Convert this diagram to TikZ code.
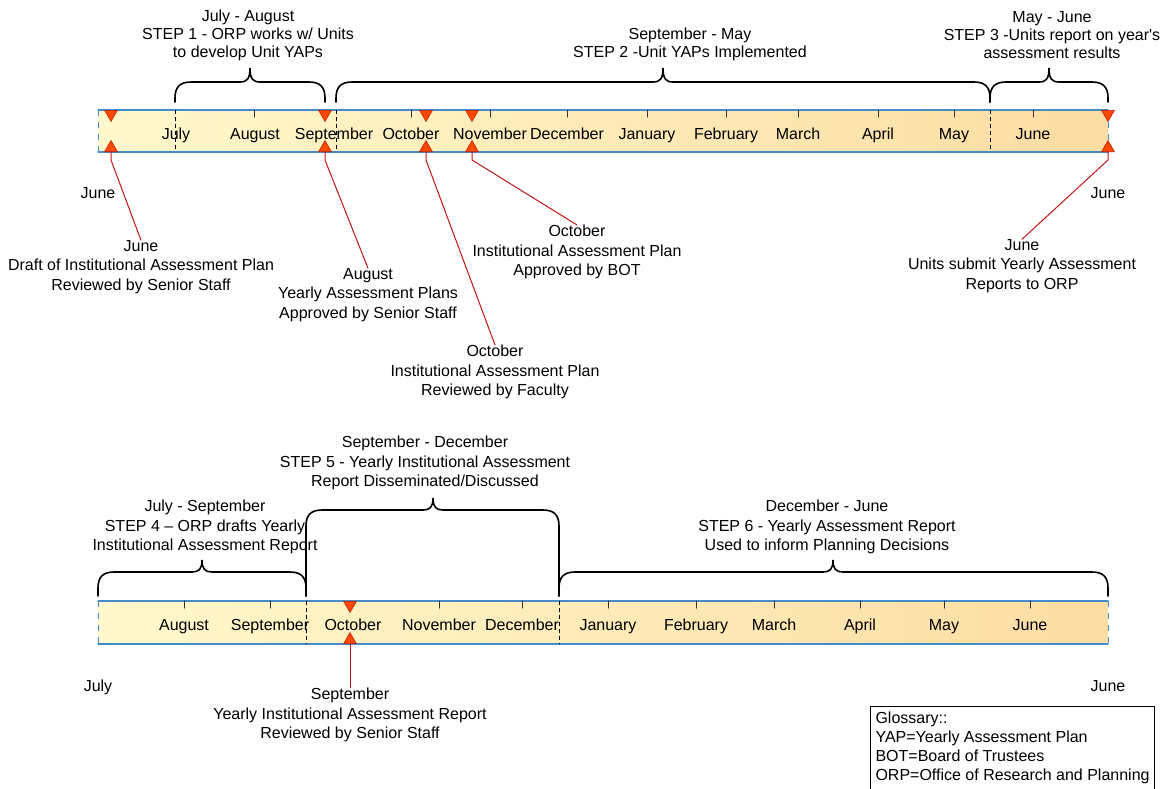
\documentclass[tikz,border=0pt]{standalone}
\usepackage{fontspec}
\setmainfont{Liberation Sans}
\usetikzlibrary{shapes.geometric}

\definecolor{barblue}{RGB}{70,140,205}
\definecolor{barleft}{RGB}{255,248,204}
\definecolor{barright}{RGB}{252,221,163}
\definecolor{markfill}{RGB}{255,72,0}
\definecolor{markdraw}{RGB}{190,30,0}
\definecolor{leadred}{RGB}{192,20,20}

\begin{document}
\begin{tikzpicture}[x=0.5pt, y=-0.5pt, line cap=round,
  font=\fontsize{8}{9.6}\selectfont,
  bar/.style={left color=barleft, right color=barright},
  edgeline/.style={barblue, line width=0.7pt},
  sideline/.style={barblue, thin, dashed, line cap=butt},
  stepline/.style={black, thin, dash pattern=on 2pt off 1.5pt, line cap=butt},
  monthtick/.style={black!80, line width=0.5pt},
  marker/.style={regular polygon, regular polygon sides=3, minimum size=7.4pt,
    inner sep=0pt, fill=markfill, draw=markdraw, line width=0.3pt},
  markdown/.style={marker, shape border rotate=180, anchor=north},
  markup/.style={marker, anchor=south},
  leader/.style={leadred, line width=0.5pt},
  stepbrace/.style={black, line width=0.8pt},
  note/.style={align=center, inner sep=0pt},
  topnote/.style={note, font=\fontsize{8}{9}\selectfont},
  month/.style={inner sep=0pt, anchor=base}]
  \useasboundingbox (0,0) rectangle (1160,788);

  % upper bar
  \fill[bar] (98,110) rectangle (1108,152);
  \draw[edgeline] (98,110) -- (1108,110) (98,152) -- (1108,152);
  \draw[sideline] (98,110) -- (98,152) (1108,110) -- (1108,152);
  \foreach \x in {254,411,490,567,647,726,798,878,954,1033}
    \draw[monthtick] (\x,110) -- (\x,117);
  \foreach \x in {175,336,990}
    \draw[stepline] (\x,110) -- (\x,152);
  \foreach \m/\x in {July/176,August/255,September/334,October/411,November/490,
      December/567,January/647,February/726,March/798,April/878,May/954,June/1033}
    \node[month] (up\m) at (\x,139) {\m};

  % lower bar
  \fill[bar] (98,601) rectangle (1108,644);
  \draw[edgeline] (98,601) -- (1108,601) (98,644) -- (1108,644);
  \draw[sideline] (98,601) -- (98,644) (1108,601) -- (1108,644);
  \foreach \x in {184,270,439,522,608,696,774,860,944,1030}
    \draw[monthtick] (\x,601) -- (\x,608);
  \foreach \x in {306,559}
    \draw[stepline] (\x,601) -- (\x,644);
  \foreach \m/\x in {August/184,September/270,October/353,November/439,December/522,
      January/608,February/696,March/774,April/860,May/944,June/1030}
    \node[month] (low\m) at (\x,630) {\m};

  % braces
  \foreach \a/\m/\b/\yb/\yh/\yp in {175/250/325/102/82/68,336/663/990/102/82/68,
      990/1049/1108/102/82/68,98/202/306/596/572/560,306/433/559/596/510/498,
      559/833/1108/596/572/560}
    \draw[stepbrace] (\a,\yb) -- (\a,\yh+16) .. controls (\a,\yh+5) and (\a+5,\yh) .. (\a+16,\yh)
      -- (\m-10,\yh) .. controls (\m-3,\yh) and (\m,\yh-3) .. (\m,\yp)
      .. controls (\m,\yh-3) and (\m+3,\yh) .. (\m+10,\yh)
      -- (\b-16,\yh) .. controls (\b-5,\yh) and (\b,\yh+5) .. (\b,\yh+16) -- (\b,\yb);

  % steps
  \node[topnote] (step1) at (248,35) {July - August\\STEP 1 - ORP works w/ Units\\to develop Unit YAPs};
  \node[topnote] (step2) at (690,44) {September - May\\STEP 2 -Unit YAPs Implemented};
  \node[topnote] (step3) at (1052,35) {May - June\\STEP 3 -Units report on year\textquotesingle s\\assessment results};
  \node[note] (step4) at (205,527) {July - September\\STEP 4 – ORP drafts Yearly\\Institutional Assessment Report};
  \node[note] (step5) at (425,463) {September - December\\STEP 5 - Yearly Institutional Assessment\\Report Disseminated/Discussed};
  \node[note] (step6) at (827,527) {December - June\\STEP 6 - Yearly Assessment Report\\Used to inform Planning Decisions};

  % markers
  \foreach \n/\x in {draft/111,yap/325,faculty/426,board/472,units/1108} {
    \node[markdown] (\n Top) at (\x,110) {};
    \node[markup] (\n Bot) at (\x,152) {};
  }
  \node[markdown] (reportTop) at (350,601) {};
  \node[markup] (reportBot) at (350,644) {};

  % end dates
  \node[month] (startJune) at (98,198) {June};
  \node[month] (endJune) at (1108,198) {June};
  \node[month] (startJuly) at (98,691) {July};
  \node[month] (finalJune) at (1108,691) {June};

  % milestones
  \node[note] (draft) at (141,267) {June\\Draft of Institutional Assessment Plan\\Reviewed by Senior Staff};
  \node[note] (yap) at (368,295) {August\\Yearly Assessment Plans\\Approved by Senior Staff};
  \node[note] (faculty) at (495,372) {October\\Institutional Assessment Plan\\Reviewed by Faculty};
  \node[note] (board) at (577,252) {October\\Institutional Assessment Plan\\Approved by BOT};
  \node[note] (units) at (1022,266) {June\\Units submit Yearly Assessment\\Reports to ORP};
  \node[note] (report) at (350,715) {September\\Yearly Institutional Assessment Report\\Reviewed by Senior Staff};
  \foreach \n in {draft,yap,faculty,board,units}
    \draw[leader] (\n Bot.south) -- ++(0,8) -- (\n.north);
  \draw[leader] (reportBot.south) -- (report.north);

  % glossary
  \node[draw, line width=0.5pt, anchor=north west, align=left,
    inner xsep=2.5pt, inner ysep=2.5pt] (glossary) at (870,706)
    {Glossary::\\YAP=Yearly Assessment Plan\\BOT=Board of Trustees\\ORP=Office of Research and Planning};
\end{tikzpicture}
\end{document}
